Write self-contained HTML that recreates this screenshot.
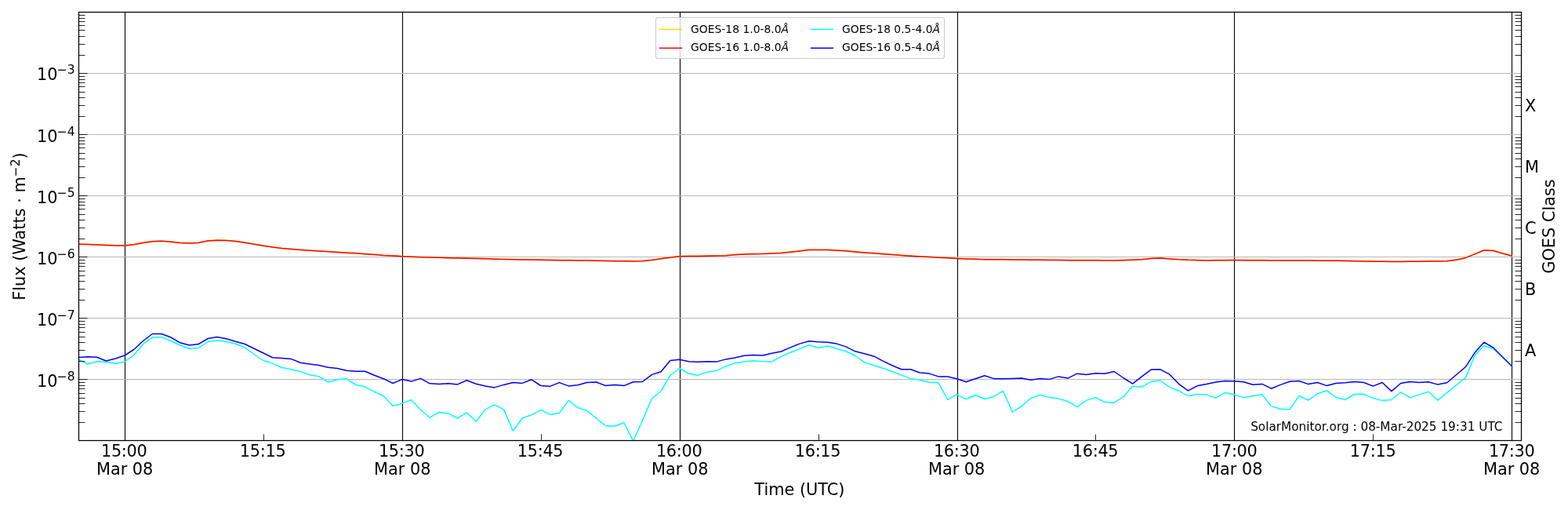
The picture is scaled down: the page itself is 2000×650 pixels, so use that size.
<!DOCTYPE html><html><head><meta charset="utf-8"><title>GOES X-ray flux</title><style>html,body{margin:0;padding:0;background:#fff;}svg{display:block;}text{font-family:'DejaVu Sans', 'Liberation Sans', sans-serif;fill:#000;}</style></head><body>
<svg width="2000" height="650" viewBox="0 0 2000 650">
<rect x="0" y="0" width="2000" height="650" fill="#fff"/>
<defs><clipPath id="ax"><rect x="100.00" y="14.96" width="1840.00" height="546.42"/></clipPath></defs>
<path d="M159.50 15.50V561.50M513.50 15.50V561.50M867.50 15.50V561.50M1221.50 15.50V561.50M1574.50 15.50V561.50M1928.50 15.50V561.50" stroke="#000" stroke-width="1.1" fill="none"/>
<path d="M100.50 483.50H1940.50M100.50 405.50H1940.50M100.50 327.50H1940.50M100.50 249.50H1940.50M100.50 171.50H1940.50M100.50 93.50H1940.50" stroke="#b8b8b8" stroke-width="1.1" fill="none"/>
<g clip-path="url(#ax)" fill="none" stroke-width="1.5" stroke-linejoin="round" stroke-linecap="square">
<polyline points="100.00,310.95 111.79,311.19 123.59,311.65 135.38,312.24 147.18,312.75 158.97,312.75 170.76,311.50 182.56,309.24 194.35,307.53 206.15,307.06 217.94,307.91 229.74,309.17 241.53,309.73 253.33,309.18 265.12,306.74 276.92,305.96 288.71,306.30 300.51,307.34 312.30,308.96 324.10,311.09 335.89,313.07 347.69,314.78 359.48,316.20 371.28,317.35 383.07,318.30 394.87,319.11 406.66,319.85 418.46,320.56 430.25,321.26 442.05,321.93 453.84,322.60 465.64,323.38 477.43,324.29 489.23,325.19 501.02,325.82 512.82,326.43 524.61,326.97 536.41,327.49 548.20,327.80 560.00,328.12 571.79,328.41 583.59,328.68 595.38,328.96 607.18,329.27 618.97,329.59 630.77,329.88 642.56,330.16 654.36,330.43 666.15,330.65 677.95,330.86 689.74,331.07 701.54,331.27 713.33,331.40 725.13,331.53 736.92,331.66 748.72,331.81 760.51,332.01 772.30,332.21 784.10,332.40 795.89,332.60 807.69,332.70 819.48,332.46 831.28,331.32 843.07,329.40 854.87,327.89 866.66,326.51 878.46,326.37 890.25,326.28 902.05,326.09 913.84,325.81 925.64,325.50 937.43,324.56 949.23,323.72 961.02,323.52 972.82,323.33 984.61,322.84 996.41,322.16 1008.20,321.02 1020.00,319.66 1031.79,318.27 1043.59,318.25 1055.38,318.32 1067.18,318.88 1078.97,319.60 1090.77,320.65 1102.56,321.63 1114.36,322.52 1126.15,323.42 1137.95,324.33 1149.74,325.23 1161.54,325.94 1173.33,326.65 1185.13,327.32 1196.92,327.95 1208.72,328.58 1220.51,329.21 1232.31,329.64 1244.10,330.06 1255.90,330.46 1267.69,330.53 1279.49,330.61 1291.28,330.69 1303.08,330.79 1314.87,330.95 1326.67,331.11 1338.46,331.26 1350.25,331.37 1362.05,331.43 1373.84,331.48 1385.64,331.53 1397.43,331.60 1409.23,331.68 1421.02,331.73 1432.82,331.49 1444.61,331.04 1456.41,330.51 1468.20,329.34 1480.00,328.65 1491.79,329.63 1503.59,330.52 1515.38,331.12 1527.18,331.38 1538.97,331.63 1550.77,331.56 1562.56,331.45 1574.36,331.35 1586.15,331.44 1597.95,331.53 1609.74,331.59 1621.54,331.63 1633.33,331.68 1645.13,331.73 1656.92,331.78 1668.72,331.85 1680.51,331.92 1692.31,331.99 1704.10,332.09 1715.90,332.30 1727.69,332.50 1739.49,332.71 1751.28,332.92 1763.08,333.04 1774.87,333.14 1786.67,333.25 1798.46,333.08 1810.26,332.91 1822.05,332.74 1833.85,332.64 1845.64,332.46 1857.44,331.09 1869.23,328.40 1881.03,323.63 1892.82,318.76 1904.62,319.34 1916.41,322.80 1928.21,325.75" stroke="#ffd700"/>
<polyline points="100.00,311.20 111.79,311.44 123.59,311.90 135.38,312.49 147.18,313.00 158.97,313.00 170.76,311.75 182.56,309.49 194.35,307.78 206.15,307.31 217.94,308.16 229.74,309.42 241.53,309.98 253.33,309.43 265.12,306.99 276.92,306.21 288.71,306.55 300.51,307.59 312.30,309.21 324.10,311.34 335.89,313.32 347.69,315.03 359.48,316.45 371.28,317.60 383.07,318.55 394.87,319.36 406.66,320.10 418.46,320.81 430.25,321.51 442.05,322.18 453.84,322.85 465.64,323.63 477.43,324.54 489.23,325.44 501.02,326.07 512.82,326.68 524.61,327.22 536.41,327.74 548.20,328.05 560.00,328.37 571.79,328.66 583.59,328.93 595.38,329.21 607.18,329.52 618.97,329.84 630.77,330.13 642.56,330.41 654.36,330.68 666.15,330.90 677.95,331.11 689.74,331.32 701.54,331.52 713.33,331.65 725.13,331.78 736.92,331.91 748.72,332.06 760.51,332.26 772.30,332.46 784.10,332.65 795.89,332.85 807.69,332.95 819.48,332.71 831.28,331.57 843.07,329.65 854.87,328.14 866.66,326.76 878.46,326.62 890.25,326.53 902.05,326.34 913.84,326.06 925.64,325.75 937.43,324.81 949.23,323.97 961.02,323.77 972.82,323.58 984.61,323.09 996.41,322.41 1008.20,321.27 1020.00,319.91 1031.79,318.52 1043.59,318.50 1055.38,318.57 1067.18,319.13 1078.97,319.85 1090.77,320.90 1102.56,321.88 1114.36,322.77 1126.15,323.67 1137.95,324.58 1149.74,325.48 1161.54,326.19 1173.33,326.90 1185.13,327.57 1196.92,328.20 1208.72,328.83 1220.51,329.46 1232.31,329.89 1244.10,330.31 1255.90,330.71 1267.69,330.78 1279.49,330.86 1291.28,330.94 1303.08,331.04 1314.87,331.20 1326.67,331.36 1338.46,331.51 1350.25,331.62 1362.05,331.68 1373.84,331.73 1385.64,331.78 1397.43,331.85 1409.23,331.93 1421.02,331.98 1432.82,331.74 1444.61,331.29 1456.41,330.76 1468.20,329.59 1480.00,328.90 1491.79,329.88 1503.59,330.77 1515.38,331.37 1527.18,331.63 1538.97,331.88 1550.77,331.81 1562.56,331.70 1574.36,331.60 1586.15,331.69 1597.95,331.78 1609.74,331.84 1621.54,331.88 1633.33,331.93 1645.13,331.98 1656.92,332.03 1668.72,332.10 1680.51,332.17 1692.31,332.24 1704.10,332.34 1715.90,332.55 1727.69,332.75 1739.49,332.96 1751.28,333.17 1763.08,333.29 1774.87,333.39 1786.67,333.50 1798.46,333.33 1810.26,333.16 1822.05,332.99 1833.85,332.89 1845.64,332.71 1857.44,331.34 1869.23,328.65 1881.03,323.88 1892.82,319.01 1904.62,319.59 1916.41,323.05 1928.21,326.00" stroke="#ff0000"/>
<polyline points="100.00,458.00 111.79,464.00 123.59,460.80 135.38,461.20 147.18,463.30 158.97,461.00 170.76,452.80 182.56,438.50 194.35,429.80 206.15,429.80 217.94,434.50 229.74,440.00 241.53,444.30 253.33,443.50 265.12,435.50 276.92,433.70 288.71,435.50 300.51,438.30 312.30,443.10 324.10,451.50 335.89,459.50 347.69,463.10 359.48,468.50 371.28,470.80 383.07,473.50 394.87,477.80 406.66,479.70 418.46,487.20 430.25,483.80 442.05,482.80 453.84,490.50 465.64,493.10 477.43,499.20 489.23,504.70 501.02,517.30 512.82,514.20 524.61,509.60 536.41,522.20 548.20,532.20 560.00,525.50 571.79,526.80 583.59,533.00 595.38,525.90 607.18,537.30 618.97,521.90 630.77,515.80 642.56,521.90 654.36,549.30 666.15,533.00 677.95,528.80 689.74,522.40 701.54,528.40 713.33,526.50 725.13,510.40 736.92,519.60 748.72,523.50 760.51,533.20 772.30,542.40 784.10,543.20 795.89,538.80 807.69,562.00 819.48,535.80 831.28,508.10 843.07,498.50 854.87,478.50 866.66,469.50 878.46,476.00 890.25,478.40 902.05,474.40 913.84,472.60 925.64,466.80 937.43,462.90 949.23,460.90 961.02,459.80 972.82,460.70 984.61,460.90 996.41,454.50 1008.20,449.30 1020.00,444.60 1031.79,439.70 1043.59,443.20 1055.38,441.00 1067.18,444.20 1078.97,447.80 1090.77,453.50 1102.56,461.60 1114.36,465.80 1126.15,469.30 1137.95,473.50 1149.74,478.10 1161.54,482.40 1173.33,484.20 1185.13,487.30 1196.92,487.80 1208.72,509.30 1220.51,502.70 1232.31,508.80 1244.10,503.50 1255.90,508.50 1267.69,505.40 1279.49,498.20 1291.28,525.20 1303.08,517.60 1314.87,507.40 1326.67,503.30 1338.46,506.60 1350.25,508.10 1362.05,511.50 1373.84,518.70 1385.64,510.40 1397.43,506.60 1409.23,512.60 1421.02,513.30 1432.82,505.80 1444.61,492.30 1456.41,493.20 1468.20,486.40 1480.00,485.00 1491.79,493.40 1503.59,498.20 1515.38,504.70 1527.18,502.50 1538.97,503.10 1550.77,507.40 1562.56,500.40 1574.36,502.90 1586.15,506.60 1597.95,504.70 1609.74,502.80 1621.54,517.60 1633.33,521.20 1645.13,521.70 1656.92,504.50 1668.72,510.10 1680.51,501.80 1692.31,497.70 1704.10,506.50 1715.90,509.50 1727.69,502.50 1739.49,502.30 1751.28,507.40 1763.08,510.60 1774.87,509.50 1786.67,499.80 1798.46,506.80 1810.26,503.10 1822.05,499.20 1833.85,510.10 1845.64,500.40 1857.44,490.80 1869.23,481.60 1881.03,453.20 1892.82,440.80 1904.62,444.20 1916.41,455.00 1928.21,466.50" stroke="#00ffff"/>
<polyline points="100.00,455.50 111.79,454.70 123.59,455.30 135.38,460.00 147.18,457.00 158.97,453.00 170.76,445.50 182.56,434.50 194.35,425.50 206.15,425.50 217.94,430.00 229.74,436.80 241.53,440.00 253.33,438.50 265.12,431.50 276.92,429.50 288.71,431.80 300.51,435.30 312.30,438.50 324.10,444.20 335.89,450.00 347.69,455.70 359.48,456.50 371.28,457.40 383.07,462.30 394.87,464.00 406.66,465.50 418.46,468.30 430.25,469.50 442.05,472.30 453.84,473.20 465.64,473.20 477.43,478.20 489.23,482.70 501.02,488.50 512.82,483.60 524.61,486.10 536.41,482.40 548.20,488.80 560.00,489.60 571.79,488.80 583.59,489.90 595.38,484.70 607.18,489.30 618.97,491.90 630.77,493.90 642.56,490.40 654.36,487.60 666.15,488.40 677.95,483.80 689.74,491.50 701.54,492.40 713.33,487.60 725.13,491.90 736.92,490.70 748.72,487.60 760.51,487.00 772.30,491.50 784.10,490.40 795.89,491.60 807.69,486.80 819.48,486.50 831.28,477.60 843.07,473.80 854.87,459.50 866.66,458.20 878.46,460.70 890.25,461.20 902.05,460.70 913.84,461.10 925.64,457.90 937.43,456.10 949.23,453.20 961.02,452.50 972.82,453.10 984.61,450.20 996.41,448.00 1008.20,442.90 1020.00,438.10 1031.79,434.80 1043.59,435.70 1055.38,436.20 1067.18,438.10 1078.97,441.90 1090.77,447.80 1102.56,450.80 1114.36,453.90 1126.15,460.10 1137.95,465.80 1149.74,470.70 1161.54,470.80 1173.33,475.00 1185.13,476.10 1196.92,479.90 1208.72,479.90 1220.51,482.70 1232.31,486.80 1244.10,482.70 1255.90,478.80 1267.69,482.60 1279.49,482.80 1291.28,482.40 1303.08,481.90 1314.87,484.30 1326.67,482.40 1338.46,483.40 1350.25,479.90 1362.05,482.10 1373.84,476.20 1385.64,477.60 1397.43,475.80 1409.23,476.20 1421.02,473.50 1432.82,481.50 1444.61,489.10 1456.41,479.90 1468.20,471.10 1480.00,470.80 1491.79,477.20 1503.59,489.30 1515.38,497.90 1527.18,491.80 1538.97,489.60 1550.77,486.90 1562.56,485.50 1574.36,485.80 1586.15,486.70 1597.95,490.20 1609.74,489.40 1621.54,495.20 1633.33,490.40 1645.13,486.20 1656.92,485.50 1668.72,489.60 1680.51,487.50 1692.31,491.60 1704.10,488.50 1715.90,487.70 1727.69,486.60 1739.49,487.50 1751.28,492.10 1763.08,487.50 1774.87,498.60 1786.67,488.50 1798.46,486.60 1810.26,487.50 1822.05,486.80 1833.85,490.10 1845.64,487.80 1857.44,477.80 1869.23,467.80 1881.03,449.60 1892.82,436.20 1904.62,443.00 1916.41,455.00 1928.21,466.50" stroke="#0000ff"/>
</g>
<path d="M100.50 538.50H108.50M1940.50 538.50H1932.50M100.50 524.50H108.50M1940.50 524.50H1932.50M100.50 514.50H108.50M1940.50 514.50H1932.50M100.50 507.50H108.50M1940.50 507.50H1932.50M100.50 501.50H108.50M1940.50 501.50H1932.50M100.50 495.50H108.50M1940.50 495.50H1932.50M100.50 491.50H108.50M1940.50 491.50H1932.50M100.50 487.50H108.50M1940.50 487.50H1932.50M100.50 483.50H111.50M100.50 460.50H108.50M1940.50 460.50H1932.50M100.50 446.50H108.50M1940.50 446.50H1932.50M100.50 436.50H108.50M1940.50 436.50H1932.50M100.50 429.50H108.50M1940.50 429.50H1932.50M100.50 423.50H108.50M1940.50 423.50H1932.50M100.50 417.50H108.50M1940.50 417.50H1932.50M100.50 413.50H108.50M1940.50 413.50H1932.50M100.50 409.50H108.50M1940.50 409.50H1932.50M100.50 405.50H111.50M100.50 382.50H108.50M1940.50 382.50H1932.50M100.50 368.50H108.50M1940.50 368.50H1932.50M100.50 358.50H108.50M1940.50 358.50H1932.50M100.50 351.50H108.50M1940.50 351.50H1932.50M100.50 345.50H108.50M1940.50 345.50H1932.50M100.50 339.50H108.50M1940.50 339.50H1932.50M100.50 335.50H108.50M1940.50 335.50H1932.50M100.50 331.50H108.50M1940.50 331.50H1932.50M100.50 327.50H111.50M100.50 304.50H108.50M1940.50 304.50H1932.50M100.50 290.50H108.50M1940.50 290.50H1932.50M100.50 280.50H108.50M1940.50 280.50H1932.50M100.50 273.50H108.50M1940.50 273.50H1932.50M100.50 266.50H108.50M1940.50 266.50H1932.50M100.50 261.50H108.50M1940.50 261.50H1932.50M100.50 257.50H108.50M1940.50 257.50H1932.50M100.50 253.50H108.50M1940.50 253.50H1932.50M100.50 249.50H111.50M100.50 226.50H108.50M1940.50 226.50H1932.50M100.50 212.50H108.50M1940.50 212.50H1932.50M100.50 202.50H108.50M1940.50 202.50H1932.50M100.50 195.50H108.50M1940.50 195.50H1932.50M100.50 188.50H108.50M1940.50 188.50H1932.50M100.50 183.50H108.50M1940.50 183.50H1932.50M100.50 179.50H108.50M1940.50 179.50H1932.50M100.50 175.50H108.50M1940.50 175.50H1932.50M100.50 171.50H111.50M100.50 148.50H108.50M1940.50 148.50H1932.50M100.50 134.50H108.50M1940.50 134.50H1932.50M100.50 124.50H108.50M1940.50 124.50H1932.50M100.50 117.50H108.50M1940.50 117.50H1932.50M100.50 110.50H108.50M1940.50 110.50H1932.50M100.50 105.50H108.50M1940.50 105.50H1932.50M100.50 101.50H108.50M1940.50 101.50H1932.50M100.50 97.50H108.50M1940.50 97.50H1932.50M100.50 93.50H111.50M100.50 70.50H108.50M1940.50 70.50H1932.50M100.50 56.50H108.50M1940.50 56.50H1932.50M100.50 46.50H108.50M1940.50 46.50H1932.50M100.50 38.50H108.50M1940.50 38.50H1932.50M100.50 32.50H108.50M1940.50 32.50H1932.50M100.50 27.50H108.50M1940.50 27.50H1932.50M100.50 23.50H108.50M1940.50 23.50H1932.50M100.50 19.50H108.50M1940.50 19.50H1932.50M159.50 561.50V553.50M336.50 561.50V553.50M513.50 561.50V553.50M690.50 561.50V553.50M867.50 561.50V553.50M1044.50 561.50V553.50M1221.50 561.50V553.50M1397.50 561.50V553.50M1574.50 561.50V553.50M1751.50 561.50V553.50M1928.50 561.50V553.50" stroke="#000" stroke-width="0.85" fill="none"/>
<rect x="100.50" y="15.50" width="1840.00" height="546.00" fill="none" stroke="#000" stroke-width="1.25"/>
<text x="95.7" y="493.00" font-size="20.83" text-anchor="end">10<tspan font-size="15.5" dx="-0.6" dy="-8">−8</tspan></text>
<text x="95.7" y="415.00" font-size="20.83" text-anchor="end">10<tspan font-size="15.5" dx="-0.6" dy="-8">−7</tspan></text>
<text x="95.7" y="337.00" font-size="20.83" text-anchor="end">10<tspan font-size="15.5" dx="-0.6" dy="-8">−6</tspan></text>
<text x="95.7" y="259.00" font-size="20.83" text-anchor="end">10<tspan font-size="15.5" dx="-0.6" dy="-8">−5</tspan></text>
<text x="95.7" y="181.00" font-size="20.83" text-anchor="end">10<tspan font-size="15.5" dx="-0.6" dy="-8">−4</tspan></text>
<text x="95.7" y="102.00" font-size="20.83" text-anchor="end">10<tspan font-size="15.5" dx="-0.6" dy="-8">−3</tspan></text>
<text x="158.21" y="582.2" font-size="20.83" text-anchor="middle" letter-spacing="-0.3">15:00</text>
<text x="159.13" y="605.3" font-size="20.83" text-anchor="middle">Mar 08</text>
<text x="335.08" y="582.2" font-size="20.83" text-anchor="middle" letter-spacing="-0.3">15:15</text>
<text x="512.18" y="582.2" font-size="20.83" text-anchor="middle" letter-spacing="-0.3">15:30</text>
<text x="513.22" y="605.3" font-size="20.83" text-anchor="middle">Mar 08</text>
<text x="689.07" y="582.2" font-size="20.83" text-anchor="middle" letter-spacing="-0.3">15:45</text>
<text x="866.16" y="582.2" font-size="20.83" text-anchor="middle" letter-spacing="-0.3">16:00</text>
<text x="867.18" y="605.3" font-size="20.83" text-anchor="middle">Mar 08</text>
<text x="1043.00" y="582.2" font-size="20.83" text-anchor="middle" letter-spacing="-0.3">16:15</text>
<text x="1220.17" y="582.2" font-size="20.83" text-anchor="middle" letter-spacing="-0.3">16:30</text>
<text x="1220.16" y="605.3" font-size="20.83" text-anchor="middle">Mar 08</text>
<text x="1397.05" y="582.2" font-size="20.83" text-anchor="middle" letter-spacing="-0.3">16:45</text>
<text x="1574.25" y="582.2" font-size="20.83" text-anchor="middle" letter-spacing="-0.3">17:00</text>
<text x="1574.19" y="605.3" font-size="20.83" text-anchor="middle">Mar 08</text>
<text x="1751.14" y="582.2" font-size="20.83" text-anchor="middle" letter-spacing="-0.3">17:15</text>
<text x="1928.20" y="582.2" font-size="20.83" text-anchor="middle" letter-spacing="-0.3">17:30</text>
<text x="1928.13" y="605.3" font-size="20.83" text-anchor="middle">Mar 08</text>
<text x="1945.0" y="142.20" font-size="20.83">X</text>
<text x="1945.0" y="220.20" font-size="20.83">M</text>
<text x="1945.0" y="298.20" font-size="20.83">C</text>
<text x="1945.0" y="376.20" font-size="20.83">B</text>
<text x="1945.0" y="454.20" font-size="20.83">A</text>
<text x="1019.87" y="630.9" font-size="20.83" text-anchor="middle">Time (UTC)</text>
<text transform="translate(1983.4 288.5) rotate(-90)" font-size="20.83" text-anchor="middle">GOES Class</text>
<text transform="translate(31.9 288.5) rotate(-90)" font-size="20.83" text-anchor="middle">Flux (Watts · m<tspan font-size="15.5" dy="-7.4">−2</tspan><tspan dy="7.4">)</tspan></text>
<text x="1916.5" y="548.8" font-size="15.28" text-anchor="end">SolarMonitor.org : 08-Mar-2025 19:31 UTC</text>
<rect x="836.5" y="22.5" width="368" height="52" rx="2.8" ry="2.8" fill="#fff" fill-opacity="0.8" stroke="#cccccc" stroke-width="1.1"/>
<path d="M840.80 37.40H870.10" stroke="#ffd700" stroke-width="1.5"/>
<text x="881.10" y="41.80" font-size="13.89">GOES-18 1.0-8.0<tspan font-style="italic">Å</tspan></text>
<path d="M840.80 61.30H870.10" stroke="#ff0000" stroke-width="1.5"/>
<text x="881.10" y="64.70" font-size="13.89">GOES-16 1.0-8.0<tspan font-style="italic">Å</tspan></text>
<path d="M1033.80 37.40H1063.10" stroke="#00ffff" stroke-width="1.5"/>
<text x="1074.05" y="41.80" font-size="13.89">GOES-18 0.5-4.0<tspan font-style="italic">Å</tspan></text>
<path d="M1033.80 61.30H1063.10" stroke="#0000ff" stroke-width="1.5"/>
<text x="1074.05" y="64.70" font-size="13.89">GOES-16 0.5-4.0<tspan font-style="italic">Å</tspan></text>
</svg></body></html>
